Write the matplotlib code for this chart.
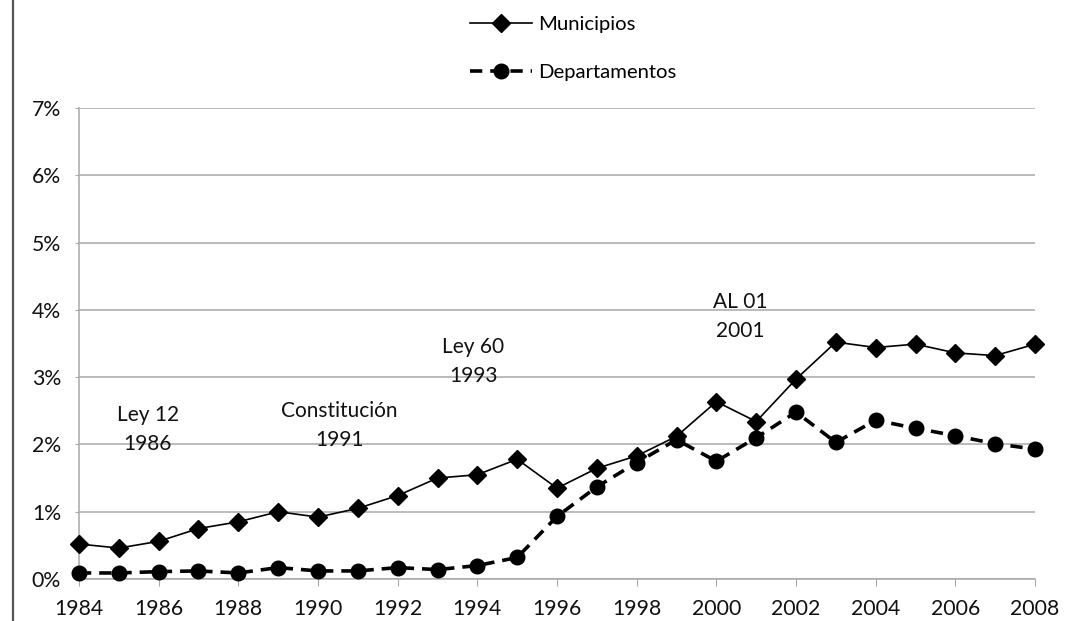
import matplotlib
matplotlib.use("Agg")
import matplotlib.pyplot as plt
from matplotlib.lines import Line2D
from matplotlib.ticker import FuncFormatter, MultipleLocator

plt.rcParams['font.family'] = ['Lato', 'DejaVu Sans']

years = list(range(1984, 2009))
municipios = [0.52, 0.46, 0.56, 0.75, 0.85, 1.00, 0.92, 1.05, 1.24, 1.50, 1.55, 1.78,
              1.35, 1.645, 1.83, 2.12, 2.635, 2.34, 2.97, 3.52, 3.44, 3.49, 3.36, 3.32, 3.49]
departamentos = [0.09, 0.09, 0.11, 0.12, 0.09, 0.17, 0.12, 0.12, 0.17, 0.14, 0.20, 0.32,
                 0.93, 1.37, 1.73, 2.07, 1.75, 2.10, 2.48, 2.03, 2.36, 2.24, 2.13, 2.01, 1.93]
series_labels = ["Municipios", "Departamentos"]

notes = ["Ley 12\n1986", "Constitución\n1991", "Ley 60\n1993", "AL 01\n2001"]
note_x = [1985.73, 1990.53, 1993.9, 2000.6]
note_y = [2.22, 2.28, 3.23, 3.9]

fig = plt.figure(figsize=(10.91, 6.21), dpi=100)
ax = fig.add_axes([0.0724, 0.0676, 0.8763, 0.7586])

ax.plot(years, municipios, color='black', lw=1.2, marker='D', ms=9,
        label=series_labels[0], clip_on=False, zorder=3)
ax.plot(years, departamentos, color='black', lw=2.6, ls=(0, (3.4, 2.2)),
        marker='o', ms=10.5, label=series_labels[1], clip_on=False, zorder=4)

for txt, x, y in zip(notes, note_x, note_y):
    ax.text(x, y, txt, ha='center', va='center', fontsize=15,
            color='#111111', linespacing=1.55)

ax.set_xlim(1984, 2008)
ax.set_ylim(0, 7)
ax.xaxis.set_major_locator(MultipleLocator(2))
ax.yaxis.set_major_locator(MultipleLocator(1))
ax.yaxis.set_major_formatter(FuncFormatter(lambda v, p: f"{v:.0f}%"))
ax.grid(axis='y', color='#a8a8a8', lw=1.1)
ax.set_axisbelow(True)
for s in ['top', 'right']:
    ax.spines[s].set_visible(False)
for s in ['left', 'bottom']:
    ax.spines[s].set_color('#a8a8a8')
    ax.spines[s].set_linewidth(1.1)
ax.tick_params(axis='x', length=5, color='#a8a8a8', labelsize=15.3, pad=9.5,
               labelcolor='#111111')
ax.tick_params(axis='y', length=3, color='#a8a8a8', labelsize=15.3, pad=10,
               labelcolor='#111111')

leg = fig.legend(loc='upper left', bbox_to_anchor=(0.4235, 0.9871), frameon=False,
                 fontsize=14.6, handlelength=3.05, labelspacing=1.5,
                 handletextpad=0.3, borderaxespad=0)

fig.add_artist(Line2D([13 / 1091, 13 / 1091], [0, 1], color='#555555', lw=1.6,
                      transform=fig.transFigure))

fig.savefig("out.png", dpi=100)
